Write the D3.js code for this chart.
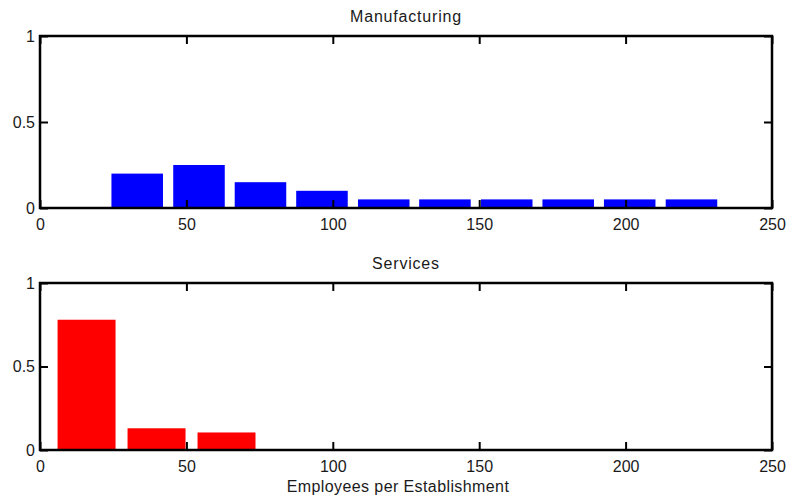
<!DOCTYPE html>
<html>
<head>
<meta charset="utf-8">
<script src="https://cdn.jsdelivr.net/npm/d3@7"></script>
<style>
  html, body { margin: 0; padding: 0; background: #fff; }
  svg { display: block; }
  text { font-family: "Liberation Sans", Arial, sans-serif; font-size: 16px; fill: #1a1a1a; }
</style>
</head>
<body>
<svg id="chart" width="788" height="500"></svg>
<script>
// Histogram bin centres (employees per establishment) and shares
const manufacturingCenters = [33.2, 54.3, 75.3, 96.3, 117.4, 138.3, 159.4, 180.4, 201.4, 222.5];
const manufacturingShares  = [0.20, 0.25, 0.15, 0.10, 0.05, 0.05, 0.05, 0.05, 0.05, 0.05];
const servicesCenters = [15.9, 39.8, 63.7];
const servicesShares  = [0.78, 0.13, 0.105];

const xTicks = [0, 50, 100, 150, 200, 250];
const yTicks = [0, 0.5, 1];
const panelTitles = ["Manufacturing", "Services"];
const xAxisLabel = "Employees per Establishment";

const svg = d3.select("#chart");
const FONT = "'Liberation Sans', Arial, sans-serif";

const x = d3.scaleLinear().domain([0, 250]).range([40, 772]);

const panels = [
  { title: panelTitles[0], centers: manufacturingCenters, values: manufacturingShares,
    binWidth: 17.6, color: "#0000ff", top: 36, bottom: 208 },
  { title: panelTitles[1], centers: servicesCenters, values: servicesShares,
    binWidth: 19.8, color: "#ff0000", top: 283, bottom: 450 }
];

panels.forEach(p => {
  const y = d3.scaleLinear().domain([0, 1]).range([p.bottom, p.top]);
  const g = svg.append("g");

  // bars
  g.selectAll("rect.bar")
    .data(p.centers.map((c, i) => ({ c, v: p.values[i] })))
    .join("rect")
    .attr("class", "bar")
    .attr("x", d => x(d.c - p.binWidth / 2))
    .attr("width", d => x(d.c + p.binWidth / 2) - x(d.c - p.binWidth / 2))
    .attr("y", d => y(d.v))
    .attr("height", d => y(0) - y(d.v))
    .attr("fill", p.color);

  const tickLen = 8;
  // bottom axis with inward ticks
  const gb = g.append("g").attr("transform", `translate(0,${p.bottom})`)
    .call(d3.axisBottom(x).tickValues(xTicks).tickSize(-tickLen).tickPadding(10.5)
      .tickFormat(d3.format("d")));
  // top axis: ticks only
  const gt = g.append("g").attr("transform", `translate(0,${p.top})`)
    .call(d3.axisTop(x).tickValues(xTicks).tickSize(-tickLen).tickFormat(""));
  // left axis
  const gl = g.append("g").attr("transform", `translate(${x(0)},0)`)
    .call(d3.axisLeft(y).tickValues(yTicks).tickSize(-tickLen).tickPadding(5)
      .tickFormat(d => d === 0.5 ? "0.5" : d3.format("d")(d)));
  // right axis: ticks only
  const gr = g.append("g").attr("transform", `translate(${x(250)},0)`)
    .call(d3.axisRight(y).tickValues(yTicks).tickSize(-tickLen).tickFormat(""));

  [gb, gt, gl, gr].forEach(a => {
    a.select(".domain").remove();
    a.selectAll(".tick line").attr("stroke", "#000").attr("stroke-width", 2);
    a.selectAll("text").style("font-family", FONT)
      .style("font-size", "16px").attr("fill", "#1a1a1a");
  });

  // frame
  g.append("rect")
    .attr("x", x(0)).attr("y", p.top)
    .attr("width", x(250) - x(0)).attr("height", p.bottom - p.top)
    .attr("fill", "none").attr("stroke", "#000").attr("stroke-width", 2.5);

  // title
  g.append("text")
    .attr("x", (x(0) + x(250)) / 2)
    .attr("y", p.top - 14)
    .attr("text-anchor", "middle")
    .style("letter-spacing", "0.8px")
    .text(p.title);
});

svg.append("text")
  .attr("x", 398)
  .attr("y", 491.5)
  .attr("text-anchor", "middle")
  .style("letter-spacing", "0.4px")
  .text(xAxisLabel);
</script>
</body>
</html>
